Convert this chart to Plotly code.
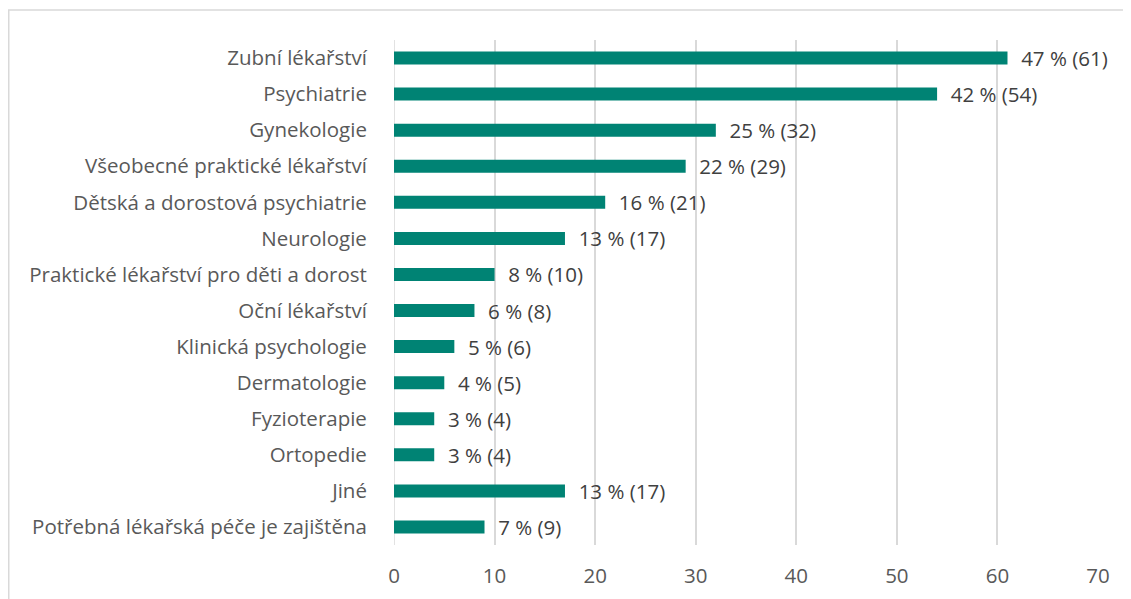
import plotly.graph_objects as go

categories = [
    "Zubní lékařství",
    "Psychiatrie",
    "Gynekologie",
    "Všeobecné praktické lékařství",
    "Dětská a dorostová psychiatrie",
    "Neurologie",
    "Praktické lékařství pro děti a dorost",
    "Oční lékařství",
    "Klinická psychologie",
    "Dermatologie",
    "Fyzioterapie",
    "Ortopedie",
    "Jiné",
    "Potřebná lékařská péče je zajištěna",
]
counts = [61, 54, 32, 29, 21, 17, 10, 8, 6, 5, 4, 4, 17, 9]
percents = [47, 42, 25, 22, 16, 13, 8, 6, 5, 4, 3, 3, 13, 7]
x_ticks = [0, 10, 20, 30, 40, 50, 60, 70]

labels = ["\u00a0\u00a0" + f"{p} % ({c})" for p, c in zip(percents, counts)]

# page body has an 8px margin, so the figure is drawn offset by (8, 8)
W, H = 1123, 591
ml, mr, mt, mb = 386, 33, 32, 54
pw, ph = W - ml - mr, H - mt - mb
FS = 20.5
FONT = "Open Sans"

fig = go.Figure(go.Bar(
    y=categories, x=counts, orientation="h",
    marker=dict(color="#008374", line=dict(width=0)),
    width=0.36,
    text=labels, textposition="outside", constraintext="none",
    textfont=dict(size=FS, color="#404040", family=FONT),
    cliponaxis=False,
))

fig.update_layout(
    width=W, height=H,
    margin=dict(l=ml, r=mr, t=mt, b=mb, autoexpand=False),
    paper_bgcolor="white", plot_bgcolor="white",
    font=dict(family=FONT, size=FS, color="#595959"),
    showlegend=False,
    xaxis=dict(range=[0, 70], tickvals=x_ticks, showgrid=True,
               gridcolor="#d9d9d9", gridwidth=1.5, zeroline=False,
               showline=False, ticks="outside", ticklen=12,
               tickcolor="rgba(0,0,0,0)", automargin=False,
               tickfont=dict(size=FS, color="#595959")),
    yaxis=dict(autorange="reversed", showgrid=False, ticks="outside",
               ticklen=22, tickcolor="rgba(0,0,0,0)", automargin=False,
               showline=False, zeroline=False,
               tickfont=dict(size=FS, color="#595959")),
    shapes=[
        dict(type="line", xref="x", yref="paper", x0=0, x1=0, y0=0, y1=1,
             line=dict(color="#d9d9d9", width=1.5), layer="below"),
        dict(type="rect", xref="paper", yref="paper",
             x0=(0.75 - ml) / pw, x1=(W + 5 - ml) / pw,
             y0=-0.3, y1=(ph + mt - 2) / ph,
             line=dict(color="#d9d9d9", width=1.5), fillcolor="rgba(0,0,0,0)"),
    ],
)
fig.write_html("out.html")
